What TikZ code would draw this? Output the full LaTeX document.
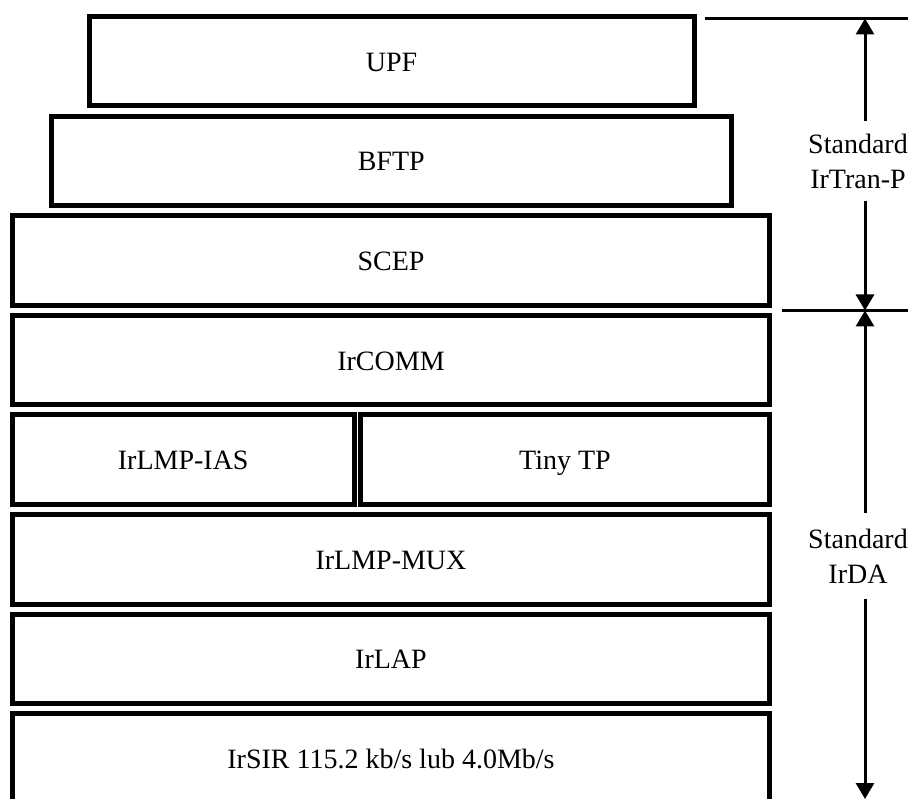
\documentclass[tikz,border=0pt]{standalone}
\usepackage{fontspec}
\setmainfont{Liberation Serif}
\usetikzlibrary{positioning,arrows.meta}

\begin{document}
\begin{tikzpicture}[x=1pt,y=-1pt,
    layer/.style={draw,line width=5pt,minimum height=89.5pt,inner sep=0pt,outer sep=0pt,text height=20pt,text depth=0pt,font=\fontsize{28}{35}\selectfont},
    side/.style={align=center,inner sep=12pt,font=\fontsize{28}{35}\selectfont},
    dim/.style={line width=3pt,-{Triangle[width=18pt,length=16pt]}},
    rule/.style={line width=3pt}]
    \clip (0,0) rectangle (908,799);
    % protocol stack
    \node[layer,minimum width=605pt] (upf) at (391.5,61.25) {UPF};
    \node[layer,minimum width=680.5pt] (bftp) at (391.25,160.85) {BFTP};
    \node[layer,minimum width=757pt] (scep) at (391,260.45) {SCEP};
    \node[layer,minimum width=757pt] (comm) at (391,360.05) {IrCOMM};
    \node[layer,minimum width=341.5pt] (ias) at (183.25,459.65) {IrLMP-IAS};
    \node[layer,minimum width=409pt] (tinytp) at (565,459.65) {Tiny TP};
    \node[layer,minimum width=757pt] (mux) at (391,559.25) {IrLMP-MUX};
    \node[layer,minimum width=757pt] (lap) at (391,658.85) {IrLAP};
    \node[layer,minimum width=757pt] (sir) at (391,758.45) {IrSIR 115.2 kb/s lub 4.0Mb/s};
    % standards on the right
    \coordinate (topL) at (705,18.5);
    \coordinate (topR) at (908,18.5);
    \coordinate (midL) at (782,310.5);
    \coordinate (midR) at (908,310.5);
    \coordinate (tranTop) at (865,18.5);
    \coordinate (irdaTop) at (865,310.5);
    \coordinate (irdaBot) at (865,799);
    \draw[rule] (topL) -- (topR);
    \draw[rule] (midL) -- (midR);
    \node[side] (tran) at (858,161) {Standard\\IrTran-P};
    \node[side,inner sep=16pt] (irda) at (858,556) {Standard\\IrDA};
    \draw[dim] (tranTop |- tran.north) -- (tranTop);
    \draw[dim] (irdaTop |- tran.south) -- (irdaTop);
    \draw[dim] (irdaTop |- irda.north) -- (irdaTop);
    \draw[dim] (irdaTop |- irda.south) -- (irdaBot);
\end{tikzpicture}
\end{document}
